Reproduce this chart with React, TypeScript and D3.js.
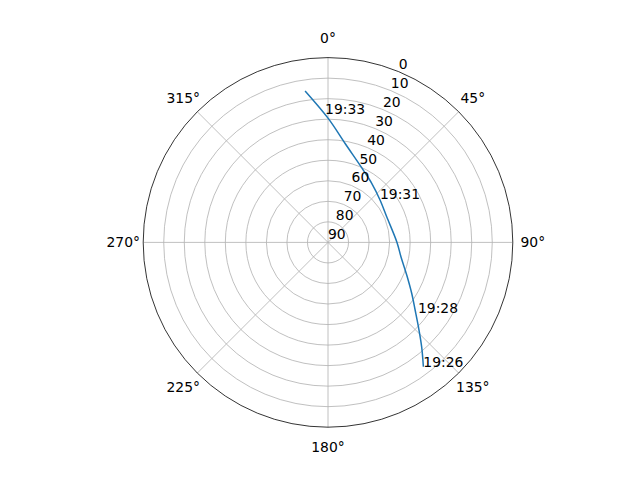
import * as d3 from "d3";

// Satellite pass: azimuth (deg, clockwise from north) and elevation (deg)
const trackAz = [142.5, 138.1, 133.0, 127.8, 121.3, 112.5, 101.1, 90.0, 66.4, 50.8, 36.5, 26.0, 9.7, 0.1, 351.4];
const trackEl = [13.7, 21.7, 29.8, 36.3, 42.3, 48.5, 53.8, 56.4, 58.8, 57.3, 54.2, 50.8, 41.0, 29.6, 15.4];

// Time annotations
const labelText = ["19:26", "19:28", "19:31", "19:33"];
const labelAz = [142.5, 128.1, 50.1, 358.7];
const labelEl = [13.7, 34.3, 57.0, 27.5];

// Axis ticks
const thetaTicks = [0, 45, 90, 135, 180, 225, 270, 315];
const rTicks = [0, 10, 20, 30, 40, 50, 60, 70, 80, 90];

export default function App() {
  const width = 640;
  const height = 480;
  const cx = 328;
  const cy = 242.4;
  const R = 184.8;
  const font = "DejaVu Sans, sans-serif";
  const fs = 13.9;

  // elevation 90 in the middle, 0 on the rim
  const r = d3.scaleLinear().domain([90, 0]).range([0, R]);
  const rad = (deg: number) => (deg * Math.PI) / 180;

  const pts = trackAz.map((a, i) => ({ a, e: trackEl[i] }));
  const line = d3
    .lineRadial<{ a: number; e: number }>()
    .angle((d) => rad(d.a))
    .radius((d) => r(d.e))
    .curve(d3.curveCatmullRom.alpha(0.5));

  const rLabelAngle = rad(22.5);

  return (
    <svg
      width={width}
      height={height}
      style={{ position: "absolute", left: 0, top: 0, background: "#fff" }}
      fontFamily={font}
      fontSize={fs}
    >
      <g transform={`translate(${cx},${cy})`}>
        {/* grid circles */}
        {rTicks
          .filter((t) => t > 0 && t < 90)
          .map((t) => (
            <circle key={t} r={r(t)} fill="none" stroke="#b0b0b0" strokeWidth={0.8} />
          ))}
        {/* spokes */}
        {thetaTicks.map((t) => {
          const [x, y] = d3.pointRadial(rad(t), R);
          return <line key={t} x1={0} y1={0} x2={x} y2={y} stroke="#b0b0b0" strokeWidth={0.8} />;
        })}
        {/* outer spine */}
        <circle r={R} fill="none" stroke="#000" strokeWidth={0.8} />

        {/* track */}
        <path d={line(pts) ?? ""} fill="none" stroke="#1f77b4" strokeWidth={1.5} />

        {/* theta labels */}
        {thetaTicks.map((t) => {
          const [x, y] = d3.pointRadial(rad(t), R + 20);
          return (
            <text key={t} x={x} y={y} textAnchor="middle" dominantBaseline="central">
              {t}°
            </text>
          );
        })}

        {/* radial labels */}
        {rTicks.map((t) => {
          const [x, y] = d3.pointRadial(rLabelAngle, r(t));
          return (
            <text key={t} x={x} y={y - 3}>
              {t}
            </text>
          );
        })}

        {/* time labels */}
        {labelText.map((s, i) => {
          const [x, y] = d3.pointRadial(rad(labelAz[i]), r(labelEl[i]));
          return (
            <text key={s} x={x} y={y}>
              {s}
            </text>
          );
        })}
      </g>
    </svg>
  );
}
